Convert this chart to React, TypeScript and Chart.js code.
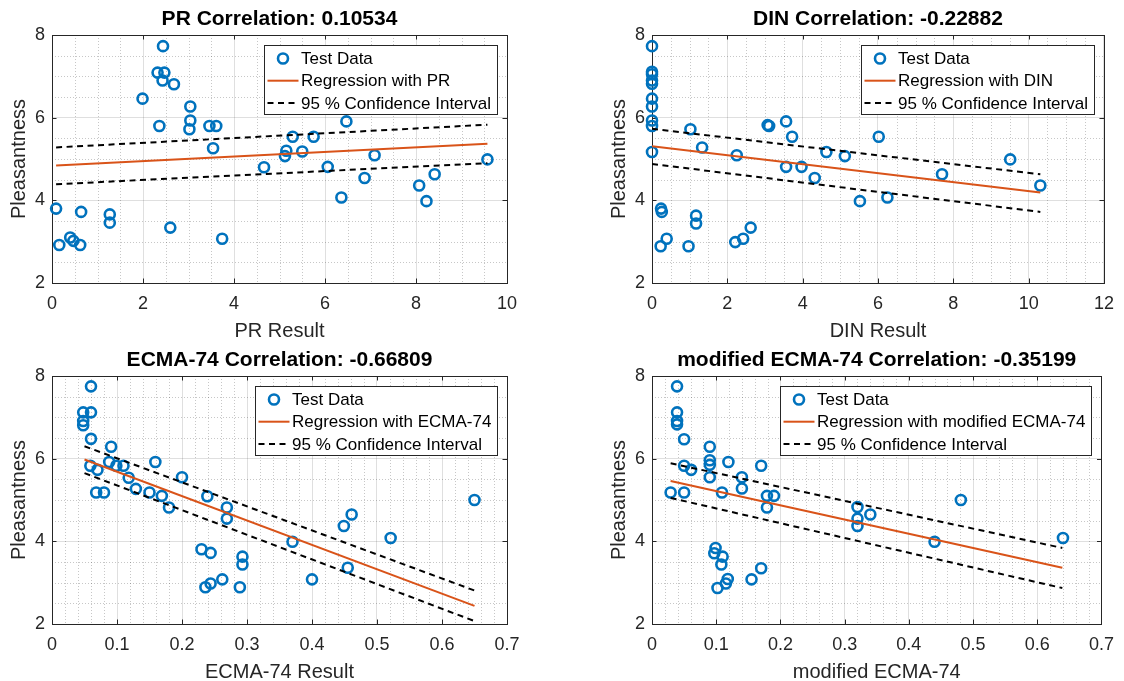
import React, { useEffect, useRef } from 'react';
import { Chart, registerables } from 'chart.js';

Chart.register(...registerables);

const FONT = '"Liberation Sans", Arial, Helvetica, sans-serif';
const BLUE = '#0072BD';
const ORANGE = '#D95319';
const AXIS_COLOR = '#262626';

// ---------------- Data ----------------
const pleasantnessLabel = 'Pleasantness';
const legendTestData = 'Test Data';
const legendCI = '95 % Confidence Interval';

// PR panel
const prTitle = 'PR Correlation: 0.10534';
const prXLabel = 'PR Result';
const prRegLabel = 'Regression with PR';
const prX = [0.09, 0.16, 0.40, 0.47, 0.62, 0.64, 1.27, 1.27, 1.99, 2.36, 2.32, 2.47, 2.43, 2.44, 2.68, 2.60, 3.04, 3.04, 3.02, 3.46, 3.61, 3.54, 3.74, 4.66, 5.12, 5.15, 5.29, 5.50, 5.75, 6.06, 6.36, 6.47, 6.87, 7.09, 8.07, 8.23, 8.41, 9.57];
const prY = [3.80, 2.92, 3.10, 3.02, 2.92, 3.72, 3.66, 3.46, 6.46, 5.80, 7.09, 7.09, 6.90, 7.73, 6.81, 3.34, 6.27, 5.93, 5.72, 5.80, 5.80, 5.26, 3.07, 4.80, 5.07, 5.20, 5.54, 5.18, 5.54, 4.81, 4.07, 5.91, 4.54, 5.09, 4.36, 3.98, 4.63, 4.99];
const prRegX = [0.09, 9.57];
const prRegY = [4.84, 5.37];
const prUpY = [5.28, 5.83];
const prLoY = [4.39, 4.90];

// DIN panel
const dinTitle = 'DIN Correlation: -0.22882';
const dinXLabel = 'DIN Result';
const dinRegLabel = 'Regression with DIN';
const dinX = [0, 0, 0, 0, 0, 0, 0, 0, 0, 0, 1.02, 1.33, 2.25, 3.07, 3.11, 3.56, 3.72, 3.56, 3.97, 4.32, 4.63, 5.12, 5.52, 6.02, 6.25, 7.70, 9.51, 10.31, 0.24, 0.26, 0.39, 0.23, 1.17, 1.17, 0.97, 2.21, 2.42, 2.62];
const dinY = [7.73, 7.11, 7.05, 6.90, 6.82, 6.46, 6.27, 5.93, 5.80, 5.17, 5.72, 5.28, 5.09, 5.82, 5.80, 5.91, 5.54, 4.81, 4.81, 4.54, 5.17, 5.07, 3.98, 5.54, 4.07, 4.63, 4.99, 4.36, 3.80, 3.72, 3.07, 2.89, 3.63, 3.44, 2.89, 2.99, 3.07, 3.34];
const dinRegX = [0, 10.31];
const dinRegY = [5.31, 4.19];
const dinUpY = [5.73, 4.63];
const dinLoY = [4.88, 3.72];

// ECMA-74 panel
const ecTitle = 'ECMA-74 Correlation: -0.66809';
const ecXLabel = 'ECMA-74 Result';
const ecRegLabel = 'Regression with ECMA-74';
const ecX = [0.060, 0.048, 0.060, 0.048, 0.048, 0.060, 0.091, 0.059, 0.070, 0.088, 0.099, 0.110, 0.118, 0.129, 0.068, 0.080, 0.150, 0.169, 0.180, 0.159, 0.200, 0.239, 0.269, 0.269, 0.230, 0.244, 0.236, 0.244, 0.262, 0.289, 0.293, 0.293, 0.370, 0.400, 0.449, 0.461, 0.455, 0.521, 0.650];
const ecY = [7.75, 7.12, 7.12, 6.91, 6.81, 6.48, 6.29, 5.83, 5.73, 5.92, 5.83, 5.83, 5.54, 5.27, 5.18, 5.18, 5.18, 5.10, 4.82, 5.92, 5.55, 5.09, 4.82, 4.55, 3.81, 3.72, 2.89, 2.98, 3.08, 2.89, 3.63, 3.44, 3.99, 3.08, 4.37, 4.65, 3.36, 4.08, 5.00];
const ecRegX = [0.05, 0.65];
const ecRegY = [5.98, 2.44];
const ecUpY = [6.30, 2.81];
const ecLoY = [5.65, 2.07];

// modified ECMA-74 panel
const meTitle = 'modified ECMA-74 Correlation: -0.35199';
const meXLabel = 'modified ECMA-74';
const meRegLabel = 'Regression with modified ECMA-74';
const meX = [0.039, 0.039, 0.039, 0.039, 0.050, 0.090, 0.090, 0.090, 0.090, 0.050, 0.061, 0.119, 0.170, 0.140, 0.140, 0.029, 0.050, 0.109, 0.179, 0.190, 0.179, 0.320, 0.320, 0.320, 0.340, 0.440, 0.481, 0.640, 0.099, 0.097, 0.110, 0.108, 0.102, 0.115, 0.118, 0.155, 0.170];
const meY = [7.75, 7.12, 6.91, 6.83, 6.47, 6.29, 5.96, 5.85, 5.55, 5.83, 5.73, 5.92, 5.83, 5.55, 5.28, 5.18, 5.18, 5.18, 5.10, 5.10, 4.82, 4.83, 4.55, 4.37, 4.65, 3.99, 5.00, 4.08, 3.84, 3.71, 3.63, 3.44, 2.87, 2.98, 3.09, 3.08, 3.35];
const meRegX = [0.029, 0.639];
const meRegY = [5.46, 3.36];
const meUpY = [5.89, 3.84];
const meLoY = [5.05, 2.87];

// Axis settings
const yMin = 2, yMax = 8, yStep = 2, yMinor = 0.5;

type PanelDef = {
  title: string;
  xLabel: string;
  regLabel: string;
  xs: number[]; ys: number[];
  regX: number[]; regY: number[]; upY: number[]; loY: number[];
  xMax: number; xStep: number; xMinor: number;
};

const panels: PanelDef[] = [
  { title: prTitle, xLabel: prXLabel, regLabel: prRegLabel, xs: prX, ys: prY, regX: prRegX, regY: prRegY, upY: prUpY, loY: prLoY, xMax: 10, xStep: 2, xMinor: 0.5 },
  { title: dinTitle, xLabel: dinXLabel, regLabel: dinRegLabel, xs: dinX, ys: dinY, regX: dinRegX, regY: dinRegY, upY: dinUpY, loY: dinLoY, xMax: 12, xStep: 2, xMinor: 0.5 },
  { title: ecTitle, xLabel: ecXLabel, regLabel: ecRegLabel, xs: ecX, ys: ecY, regX: ecRegX, regY: ecRegY, upY: ecUpY, loY: ecLoY, xMax: 0.7, xStep: 0.1, xMinor: 0.02 },
  { title: meTitle, xLabel: meXLabel, regLabel: meRegLabel, xs: meX, ys: meY, regX: meRegX, regY: meRegY, upY: meUpY, loY: meLoY, xMax: 0.7, xStep: 0.1, xMinor: 0.02 },
];

// ---------------- Plugins ----------------
const minorGridPlugin = {
  id: 'minorGrid',
  beforeDatasetsDraw(chart: any, _args: any, opts: any) {
    const { ctx, chartArea, scales } = chart;
    const x = scales.x, y = scales.y;
    ctx.save();
    ctx.strokeStyle = 'rgba(0,0,0,0.22)';
    ctx.lineWidth = 1;
    ctx.setLineDash([1, 2]);
    const nx = Math.round((x.max - x.min) / opts.xMinor);
    for (let i = 1; i < nx; i++) {
      const v = x.min + i * opts.xMinor;
      const r = v / opts.xStep;
      if (Math.abs(r - Math.round(r)) < 1e-6) continue;
      const px = Math.round(x.getPixelForValue(v)) + 0.5;
      ctx.beginPath(); ctx.moveTo(px, chartArea.top); ctx.lineTo(px, chartArea.bottom); ctx.stroke();
    }
    const ny = Math.round((y.max - y.min) / opts.yMinor);
    for (let i = 1; i < ny; i++) {
      const v = y.min + i * opts.yMinor;
      const r = v / opts.yStep;
      if (Math.abs(r - Math.round(r)) < 1e-6) continue;
      const py = Math.round(y.getPixelForValue(v)) + 0.5;
      ctx.beginPath(); ctx.moveTo(chartArea.left, py); ctx.lineTo(chartArea.right, py); ctx.stroke();
    }
    ctx.restore();
  },
};

const framePlugin = {
  id: 'frame',
  beforeDatasetsDraw(chart: any) {
    const { ctx, chartArea, scales } = chart;
    const { left, right, top, bottom } = chartArea;
    ctx.save();
    ctx.strokeStyle = AXIS_COLOR;
    ctx.lineWidth = 1;
    const tl = 4.5;
    scales.x.ticks.forEach((t: any) => {
      const px = Math.round(scales.x.getPixelForValue(t.value)) + 0.5;
      ctx.beginPath();
      ctx.moveTo(px, bottom); ctx.lineTo(px, bottom - tl);
      ctx.moveTo(px, top); ctx.lineTo(px, top + tl);
      ctx.stroke();
    });
    scales.y.ticks.forEach((t: any) => {
      const py = Math.round(scales.y.getPixelForValue(t.value)) + 0.5;
      ctx.beginPath();
      ctx.moveTo(left, py); ctx.lineTo(left + tl, py);
      ctx.moveTo(right, py); ctx.lineTo(right - tl, py);
      ctx.stroke();
    });
    ctx.strokeRect(Math.round(left) + 0.5, Math.round(top) + 0.5, Math.round(right - left), Math.round(bottom - top));
    ctx.restore();
  },
};

const legendPlugin = {
  id: 'matlabLegend',
  afterDraw(chart: any, _args: any, opts: any) {
    const { ctx, chartArea } = chart;
    const labels: { text: string; kind: string }[] = opts.labels;
    ctx.save();
    ctx.font = `17px ${FONT}`;
    let tw = 0;
    labels.forEach((l) => { tw = Math.max(tw, ctx.measureText(l.text).width); });
    const w = Math.round(37 + tw + 6);
    const h = 69;
    const x = Math.round(chartArea.right - 10 - w);
    const y = Math.round(chartArea.top + 10);
    ctx.fillStyle = '#ffffff';
    ctx.fillRect(x, y, w, h);
    ctx.strokeStyle = AXIS_COLOR;
    ctx.lineWidth = 1;
    ctx.strokeRect(x + 0.5, y + 0.5, w, h);
    labels.forEach((l, i) => {
      const cy = y + 13.5 + 22.2 * i;
      if (l.kind === 'marker') {
        ctx.beginPath();
        ctx.strokeStyle = BLUE;
        ctx.lineWidth = 2.6;
        ctx.arc(x + 19, cy, 5, 0, Math.PI * 2);
        ctx.stroke();
      } else if (l.kind === 'line') {
        ctx.beginPath();
        ctx.strokeStyle = ORANGE;
        ctx.lineWidth = 2;
        ctx.moveTo(x + 3.5, cy); ctx.lineTo(x + 34.5, cy);
        ctx.stroke();
      } else {
        ctx.beginPath();
        ctx.strokeStyle = '#000';
        ctx.lineWidth = 2;
        ctx.setLineDash([6, 4.5]);
        ctx.moveTo(x + 3.5, cy); ctx.lineTo(x + 34.5, cy);
        ctx.stroke();
        ctx.setLineDash([]);
      }
      ctx.fillStyle = '#000';
      ctx.textBaseline = 'middle';
      ctx.textAlign = 'left';
      ctx.fillText(l.text, x + 37, cy + 1);
    });
    ctx.restore();
  },
};

// ---------------- Components ----------------
const CANVAS_W = 562;
const CANVAS_H = 345;

function Panel({ def, left, top, isRight }: { def: PanelDef; left: number; top: number; isRight: boolean }) {
  const ref = useRef<HTMLCanvasElement | null>(null);

  useEffect(() => {
    if (!ref.current) return;
    const yAxisWidth = isRight ? 90 : 52;
    const rightPad = isRight ? 18 : 55;
    const yTitleCenter = isRight ? 57.5 : 19.6;
    const fmt = (v: any) => String(Math.round(Number(v) * 1000) / 1000);

    const pts = def.xs.map((x, i) => ({ x, y: def.ys[i] }));
    const line = (ys: number[]) => def.regX.map((x, i) => ({ x, y: ys[i] }));

    const chart = new Chart(ref.current, {
      type: 'scatter',
      data: {
        datasets: [
          {
            label: legendTestData,
            data: pts,
            pointStyle: 'circle',
            pointRadius: 5,
            pointBorderWidth: 2.6,
            borderColor: BLUE,
            backgroundColor: 'rgba(0,0,0,0)',
            pointBackgroundColor: 'rgba(0,0,0,0)',
            showLine: false,
            clip: false,
            order: 3,
          } as any,
          {
            label: def.regLabel,
            data: line(def.regY),
            showLine: true,
            borderColor: ORANGE,
            borderWidth: 2,
            pointRadius: 0,
            fill: false,
            order: 1,
          },
          {
            label: legendCI,
            data: line(def.upY),
            showLine: true,
            borderColor: '#000',
            borderWidth: 2,
            borderDash: [6, 4.5],
            pointRadius: 0,
            fill: false,
            order: 2,
          },
          {
            label: '',
            data: line(def.loY),
            showLine: true,
            borderColor: '#000',
            borderWidth: 2,
            borderDash: [6, 4.5],
            pointRadius: 0,
            fill: false,
            order: 2,
          },
        ],
      },
      options: {
        responsive: false,
        animation: false,
        devicePixelRatio: 1,
        layout: { padding: { left: 0, right: rightPad, top: 0, bottom: 0 } },
        events: [],
        plugins: {
          legend: { display: false },
          tooltip: { enabled: false },
          title: {
            display: true,
            text: def.title,
            fullSize: false,
            color: '#000',
            font: { family: FONT, size: 21, weight: 'bold' },
            padding: { top: 6.4, bottom: 3.4 },
          },
          minorGrid: { xMinor: def.xMinor, xStep: def.xStep, yMinor, yStep },
          matlabLegend: {
            labels: [
              { text: legendTestData, kind: 'marker' },
              { text: def.regLabel, kind: 'line' },
              { text: legendCI, kind: 'dash' },
            ],
          },
        } as any,
        scales: {
          x: {
            type: 'linear',
            min: 0,
            max: def.xMax,
            afterFit: (s: any) => { s.height = 62; },
            ticks: {
              stepSize: def.xStep,
              autoSkip: false,
              maxRotation: 0,
              padding: 10,
              color: AXIS_COLOR,
              font: { family: FONT, size: 18 },
              callback: fmt,
            },
            grid: { color: 'rgba(38,38,38,0.15)', drawTicks: false, lineWidth: 1 },
            border: { display: false },
            title: {
              display: true,
              text: def.xLabel,
              color: AXIS_COLOR,
              font: { family: FONT, size: 20 },
              padding: { top: 0, bottom: 2 },
            },
          },
          y: {
            type: 'linear',
            min: yMin,
            max: yMax,
            afterFit: (s: any) => { s.width = yAxisWidth; },
            ticks: {
              stepSize: yStep,
              padding: 7,
              color: AXIS_COLOR,
              font: { family: FONT, size: 18 },
              callback: fmt,
            },
            grid: { color: 'rgba(38,38,38,0.15)', drawTicks: false, lineWidth: 1 },
            border: { display: false },
            title: {
              display: true,
              text: pleasantnessLabel,
              color: AXIS_COLOR,
              font: { family: FONT, size: 20 },
              padding: { top: yTitleCenter - 12, bottom: 0 },
            },
          },
        },
      } as any,
      plugins: [minorGridPlugin, framePlugin, legendPlugin],
    });
    return () => chart.destroy();
  }, [def, isRight]);

  return (
    <canvas
      ref={ref}
      width={CANVAS_W}
      height={CANVAS_H}
      style={{ position: 'absolute', left, top, width: CANVAS_W, height: CANVAS_H, display: 'block' }}
    />
  );
}

export default function App() {
  return (
    <div
      style={{
        position: 'fixed',
        left: 0,
        top: 0,
        width: 1124,
        height: 681,
        overflow: 'hidden',
        background: '#ffffff',
      }}
    >
      <Panel def={panels[0]} left={0} top={0} isRight={false} />
      <Panel def={panels[1]} left={562} top={0} isRight={true} />
      <Panel def={panels[2]} left={0} top={341} isRight={false} />
      <Panel def={panels[3]} left={562} top={341} isRight={true} />
    </div>
  );
}
